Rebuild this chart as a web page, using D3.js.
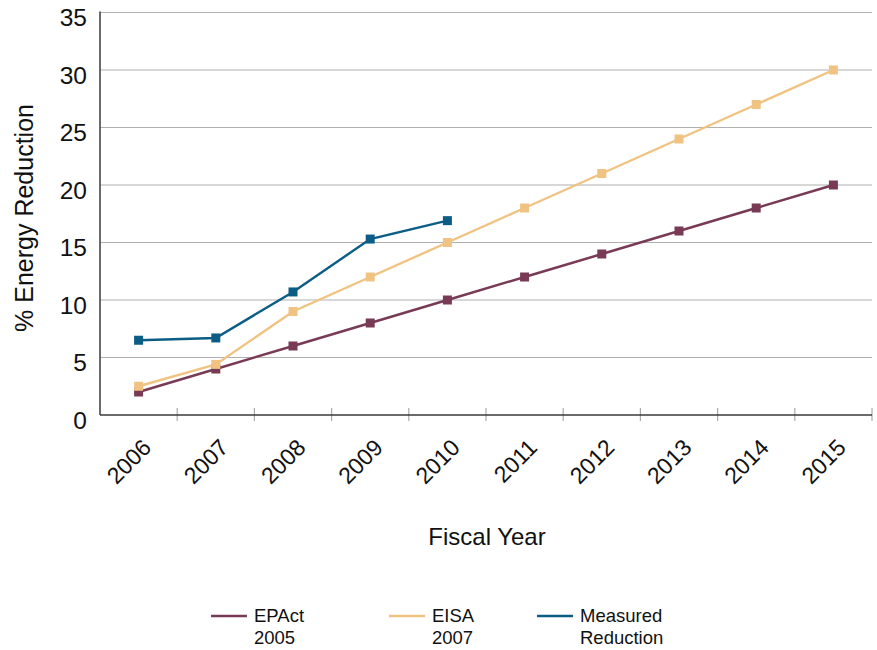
<!DOCTYPE html>
<html>
<head>
<meta charset="utf-8">
<script src="https://cdn.jsdelivr.net/npm/d3@7/dist/d3.min.js"></script>
<style>
  html, body { margin: 0; padding: 0; background: #fff; }
  svg { display: block; font-family: "Liberation Sans", Arial, Helvetica, sans-serif; }
</style>
</head>
<body>
<svg id="chart" width="877" height="650"></svg>
<script>
// Fiscal years on the horizontal axis
const years = ["2006", "2007", "2008", "2009", "2010", "2011", "2012", "2013", "2014", "2015"];

// Energy reduction targets and measured results (%)
const epact2005 = [2, 4, 6, 8, 10, 12, 14, 16, 18, 20];
const eisa2007 = [2.5, 4.4, 9, 12, 15, 18, 21, 24, 27, 30];
const measured = [6.5, 6.7, 10.7, 15.3, 16.9];

const yTicks = [0, 5, 10, 15, 20, 25, 30, 35];

const series = [
  { name: ["EPAct", "2005"], values: epact2005, color: "#783a55" },
  { name: ["EISA", "2007"], values: eisa2007, color: "#f0c382" },
  { name: ["Measured", "Reduction"], values: measured, color: "#0c5d86" }
];

const svg = d3.select("#chart");
const plotLeft = 100, plotRight = 872, plotTop = 12.5, plotBottom = 415;

const x = d3.scaleBand().domain(years).range([plotLeft, plotRight]);
const y = d3.scaleLinear().domain([0, 35]).range([plotBottom, plotTop]);

// horizontal gridlines
svg.append("g")
  .selectAll("line")
  .data(yTicks.filter(d => d > 0))
  .join("line")
  .attr("x1", plotLeft).attr("x2", plotRight)
  .attr("y1", d => y(d)).attr("y2", d => y(d))
  .attr("stroke", "#b0b0b0").attr("stroke-width", 1.2);

// y tick labels
svg.append("g")
  .selectAll("text")
  .data(yTicks)
  .join("text")
  .attr("x", 87)
  .attr("y", d => y(d) + 13.5)
  .attr("text-anchor", "end")
  .attr("font-size", 24.5)
  .attr("fill", "#111")
  .text(d => d);

// x axis tick marks at category boundaries
const boundaries = years.map(d => x(d) + x.bandwidth());
svg.append("g")
  .selectAll("line")
  .data(boundaries)
  .join("line")
  .attr("x1", d => d).attr("x2", d => d)
  .attr("y1", plotBottom - 7).attr("y2", plotBottom + 6)
  .attr("stroke", "#aaa").attr("stroke-width", 1.2);

// axis lines
svg.append("line")
  .attr("x1", plotLeft).attr("x2", plotRight)
  .attr("y1", plotBottom).attr("y2", plotBottom)
  .attr("stroke", "#3a3a3a").attr("stroke-width", 1.5);
svg.append("line")
  .attr("x1", plotLeft).attr("x2", plotLeft)
  .attr("y1", plotTop - 1).attr("y2", plotBottom)
  .attr("stroke", "#3a3a3a").attr("stroke-width", 1.5);

// rotated year labels
svg.append("g")
  .selectAll("text")
  .data(years)
  .join("text")
  .attr("text-anchor", "end")
  .attr("font-size", 23)
  .attr("fill", "#111")
  .attr("transform", d => {
    const cx = x(d) + x.bandwidth() / 2 + 14;
    return `translate(${cx},${plotBottom + 34}) rotate(-45)`;
  })
  .text(d => d);

// axis titles
svg.append("text")
  .attr("x", 487).attr("y", 545)
  .attr("text-anchor", "middle")
  .attr("font-size", 24)
  .attr("fill", "#111")
  .text("Fiscal Year");

svg.append("text")
  .attr("transform", "translate(33,218) rotate(-90)")
  .attr("text-anchor", "middle")
  .attr("font-size", 25)
  .attr("fill", "#111")
  .text("% Energy Reduction");

// series lines and square markers
const line = d3.line()
  .x((d, i) => x(years[i]) + x.bandwidth() / 2)
  .y(d => y(d));

series.forEach(s => {
  const g = svg.append("g");
  g.append("path")
    .datum(s.values)
    .attr("d", line)
    .attr("fill", "none")
    .attr("stroke", s.color)
    .attr("stroke-width", 2.4);
  g.selectAll("rect")
    .data(s.values)
    .join("rect")
    .attr("x", (d, i) => x(years[i]) + x.bandwidth() / 2 - 4.5)
    .attr("y", d => y(d) - 4.5)
    .attr("width", 9).attr("height", 9)
    .attr("fill", s.color);
});

// legend
const legendX = [211, 389, 537];
const legend = svg.append("g");
series.forEach((s, i) => {
  const lx = legendX[i];
  legend.append("line")
    .attr("x1", lx).attr("x2", lx + 36)
    .attr("y1", 616).attr("y2", 616)
    .attr("stroke", s.color).attr("stroke-width", 2.4);
  const t = legend.append("text")
    .attr("x", lx + 43)
    .attr("font-size", 18.5)
    .attr("fill", "#111");
  t.append("tspan").attr("x", lx + 43).attr("y", 622).text(s.name[0]);
  t.append("tspan").attr("x", lx + 43).attr("y", 644).text(s.name[1]);
});
</script>
</body>
</html>
